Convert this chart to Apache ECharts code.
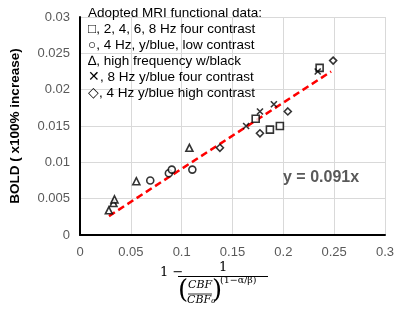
<!DOCTYPE html>
<html>
<head>
<meta charset="utf-8">
<script src="https://cdn.jsdelivr.net/npm/echarts@6/dist/echarts.min.js"></script>
<style>
  html, body { margin: 0; padding: 0; background: #fff; }
  #chart { width: 400px; height: 312px; }
</style>
</head>
<body>
<div id="chart"></div>
<script>
// values
var squareData = [[0.2357, 0.0230], [0.1728, 0.0160], [0.1868, 0.0145], [0.1966, 0.0150]];
var circleData = [[0.0691, 0.0075], [0.0874, 0.0085], [0.0903, 0.0090], [0.1105, 0.0090]];
var triangleData = [[0.0284, 0.0034], [0.0329, 0.0044], [0.0339, 0.0049], [0.0554, 0.0074], [0.1076, 0.0120]];
var crossData = [[0.1634, 0.0150], [0.1770, 0.0170], [0.1907, 0.0180], [0.2338, 0.0225]];
var diamondData = [[0.1376, 0.0120], [0.1770, 0.0140], [0.2044, 0.0170], [0.2490, 0.0240]];
var trendData = [[0.0285, 0.0026], [0.2470, 0.0225]];

var legendLines = [
	'Adopted MRI functional data:',
	'\u25A1, 2, 4, 6, 8 Hz four contrast',
	'\u25CB, 4 Hz, y/blue, low contrast',
	'\u2206, high frequency w/black',
	'\u2715, 8 Hz y/blue four contrast',
	'\u25C7, 4 Hz y/blue high contrast'
];
var xTicks = ['0', '0.05', '0.1', '0.15', '0.2', '0.25', '0.3'];

var grey = '#595959';
var serif = '"DejaVu Serif", "Liberation Serif", serif';

function marker(name, symbol, data, size) {
	return {
		name: name,
		type: 'scatter',
		symbol: symbol,
		symbolSize: size,
		data: data,
		z: 5,
		itemStyle: { color: '#fff', borderColor: '#000', borderWidth: 1.6 }
	};
}

var chart = echarts.init(document.getElementById('chart'));

var option = {
	animation: false,
	textStyle: { fontFamily: '"Liberation Sans", Arial, sans-serif' },
	grid: { left: 78, right: 15, top: 17, bottom: 77 },
	xAxis: {
		type: 'value',
		min: 0, max: 0.3, interval: 0.05,
		axisLine: { lineStyle: { color: '#000', width: 2 } },
		axisTick: { show: false },
		splitLine: { lineStyle: { color: '#d9d9d9' } },
		axisLabel: {
			color: grey, fontSize: 13, margin: 11,
			formatter: function (v) { return xTicks[Math.round(v / 0.05)]; }
		}
	},
	yAxis: {
		type: 'value',
		min: 0, max: 0.03, interval: 0.005,
		name: 'BOLD ( x100% increase)',
		nameLocation: 'middle',
		nameGap: 58,
		nameTextStyle: { color: '#000', fontSize: 13.5, fontWeight: 'bold' },
		axisLine: { show: true, lineStyle: { color: '#000', width: 2 } },
		axisTick: { show: false },
		splitLine: { lineStyle: { color: '#d9d9d9' } },
		axisLabel: { color: grey, fontSize: 13, margin: 10 }
	},
	series: [
		{
			name: 'fit',
			type: 'line',
			data: trendData,
			symbol: 'none',
			z: 3,
			lineStyle: { color: '#ff0000', width: 2.5, type: [7, 4] }
		},
		marker('square', 'rect', squareData, 7),
		marker('circle', 'circle', circleData, 7),
		marker('triangle', 'triangle', triangleData, 7),
		marker('cross', 'path://M0,0L10,10M10,0L0,10', crossData, 6),
		marker('diamond', 'diamond', diamondData, 7)
	],
	graphic: [
		{
			type: 'text', left: 88, top: 5, z: 10,
			style: { text: legendLines.join('\n'), font: '13.5px "Liberation Sans", Arial, sans-serif', fill: '#000', lineHeight: 16 }
		},
		{
			type: 'text', left: 283, top: 170, z: 10,
			style: { text: 'y = 0.091x', font: 'bold 16px "Liberation Sans", Arial, sans-serif', fill: grey }
		},
		// x axis title: 1 - 1 / ((CBF/CBF0)^(1-a/b))
		{ type: 'text', left: 160, top: 266, style: { text: '1 \u2212', font: '13px ' + serif, fill: '#000' } },
		{ type: 'line', shape: { x1: 178, y1: 276.5, x2: 268, y2: 276.5 }, style: { stroke: '#000', lineWidth: 1 } },
		{ type: 'text', left: 219, top: 261, style: { text: '1', font: '13px ' + serif, fill: '#000' } },
		{ type: 'text', left: 178, top: 278, style: { text: '(', font: '26px ' + serif, fill: '#000' } },
		{ type: 'text', left: 188, top: 280, style: { text: 'CBF', font: 'italic 11px ' + serif, fill: '#000' } },
		{ type: 'line', shape: { x1: 188, y1: 294, x2: 212, y2: 294 }, style: { stroke: '#000', lineWidth: 0.8 } },
		{ type: 'text', left: 187, top: 295, style: { text: 'CBF\u2080', font: 'italic 11px ' + serif, fill: '#000' } },
		{ type: 'text', left: 212, top: 278, style: { text: ')', font: '26px ' + serif, fill: '#000' } },
		{ type: 'text', left: 220, top: 276, style: { text: '(1\u2212\u03B1/\u03B2)', font: '9.5px ' + serif, fill: '#000' } }
	]
};

chart.setOption(option);
</script>
</body>
</html>
